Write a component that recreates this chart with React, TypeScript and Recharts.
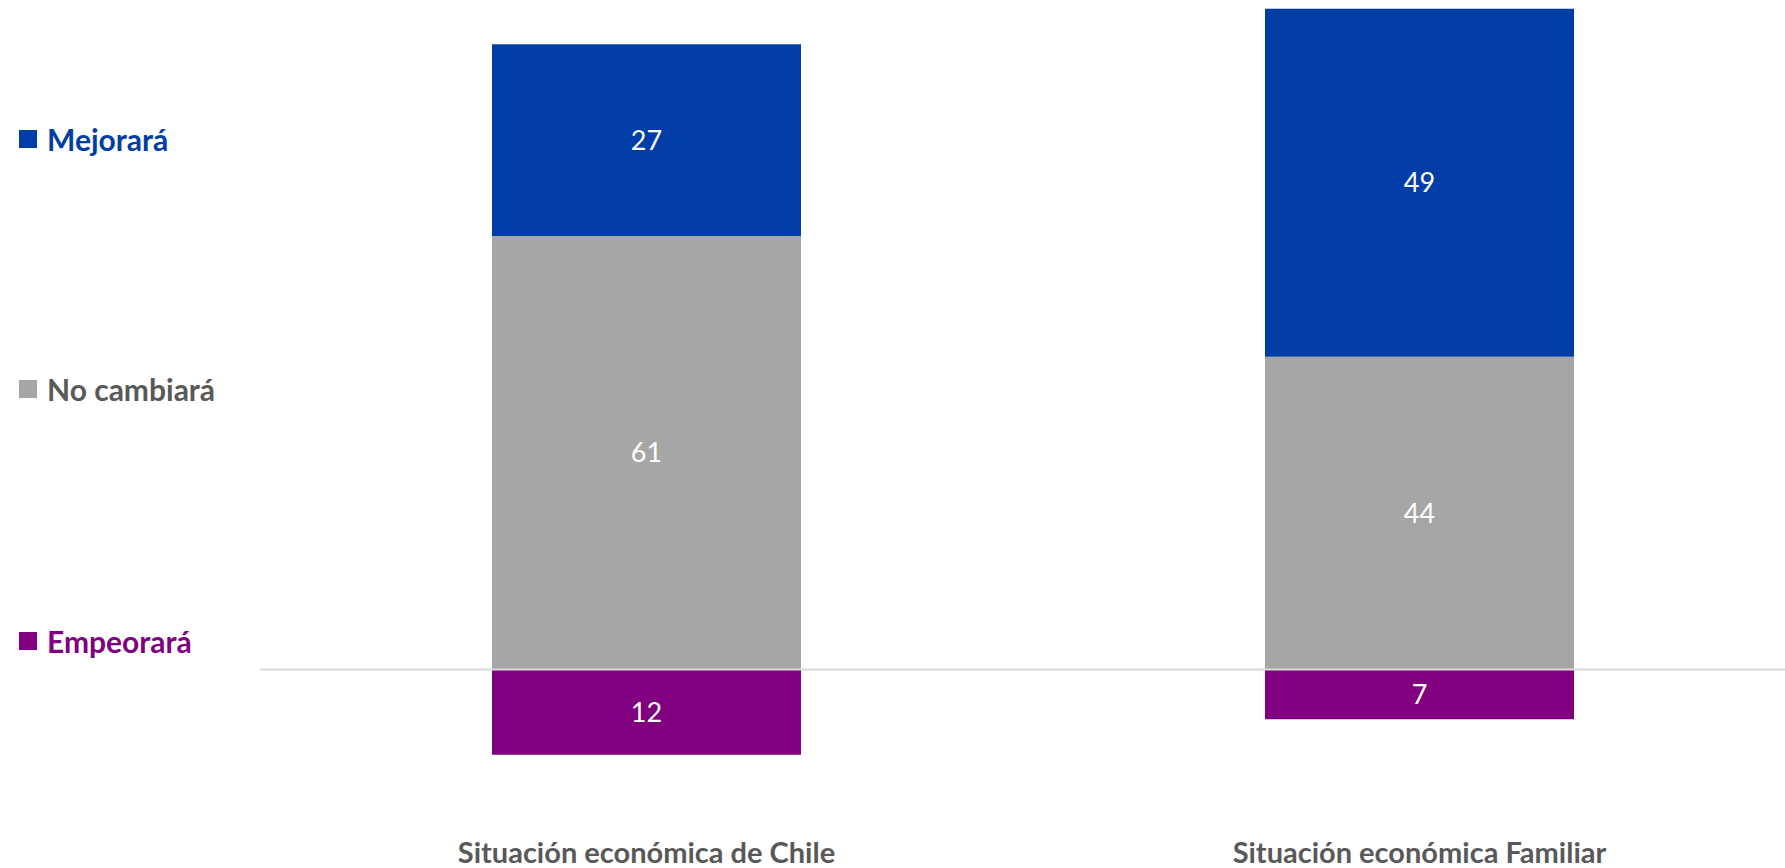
import { Bar, BarChart, LabelList, ReferenceLine, XAxis, YAxis } from "recharts";

const categories = ["Situación económica de Chile", "Situación económica Familiar"];
const mejorara = [27, 49];
const noCambiara = [61, 44];
const empeorara = [12, 7];

const seriesNames = ["Mejorará", "No cambiará", "Empeorará"];
const seriesColors = ["#003DA6", "#A6A6A6", "#800080"];
const legendTextColors = ["#003DA6", "#595959", "#800080"];

const rows = categories.map((c, i) => ({
  cat: c,
  emp: -empeorara[i],
  nc: noCambiara[i],
  mej: mejorara[i],
}));

const FONT = "Lato, 'Open Sans', sans-serif";
const legendTops = [139, 389, 641];

function LeftLegend() {
  return (
    <div style={{ position: "absolute", left: 0, top: 0, width: 260, height: 800 }}>
      {seriesNames.map((name, i) => (
        <div
          key={name}
          style={{
            position: "absolute",
            left: 19,
            top: legendTops[i] - 20,
            height: 40,
            display: "flex",
            alignItems: "center",
            fontFamily: FONT,
            fontWeight: 700,
            fontSize: 30,
            color: legendTextColors[i],
            whiteSpace: "nowrap",
          }}
        >
          <span
            style={{
              display: "inline-block",
              width: 18,
              height: 18,
              background: seriesColors[i],
              marginRight: 10,
            }}
          />
          {name}
        </div>
      ))}
    </div>
  );
}

function CatTick(props: any) {
  const { x, y, payload } = props;
  return (
    <text
      x={x}
      y={y + 72}
      textAnchor="middle"
      dominantBaseline="middle"
      fill="#595959"
      fontFamily={FONT}
      fontWeight={700}
      fontSize={29}
    >
      {payload.value}
    </text>
  );
}

const labelStyle = { fill: "#ffffff", fontFamily: FONT, fontSize: 27 };

export default function App() {
  return (
    <div
      style={{
        position: "fixed",
        left: 0,
        top: 0,
        width: 1785,
        height: 868,
        overflow: "hidden",
        background: "#ffffff",
      }}
    >
      <div style={{ position: "absolute", left: 0, top: -20 }}>
        <BarChart
          width={1806}
          height={900}
          data={rows}
          stackOffset="sign"
          margin={{ top: 14.5, right: 0, bottom: 14, left: 260 }}
          barSize={309}
        >
          <XAxis
            dataKey="cat"
            axisLine={false}
            tickLine={false}
            height={90}
            tick={<CatTick />}
            interval={0}
          />
          <YAxis hide width={0} domain={[-15, 95]} type="number" allowDataOverflow />
          <Bar dataKey="emp" stackId="s" fill={seriesColors[2]} isAnimationActive={false}>
            <LabelList
              dataKey="emp"
              position="center"
              formatter={(v: any) => Math.abs(Number(v))}
              style={labelStyle}
            />
          </Bar>
          <Bar dataKey="nc" stackId="s" fill={seriesColors[1]} isAnimationActive={false}>
            <LabelList dataKey="nc" position="center" style={labelStyle} />
          </Bar>
          <Bar dataKey="mej" stackId="s" fill={seriesColors[0]} isAnimationActive={false}>
            <LabelList dataKey="mej" position="center" style={labelStyle} />
          </Bar>
          <ReferenceLine y={0} stroke="#D9D9D9" strokeWidth={2} />
        </BarChart>
      </div>
      <LeftLegend />
    </div>
  );
}
